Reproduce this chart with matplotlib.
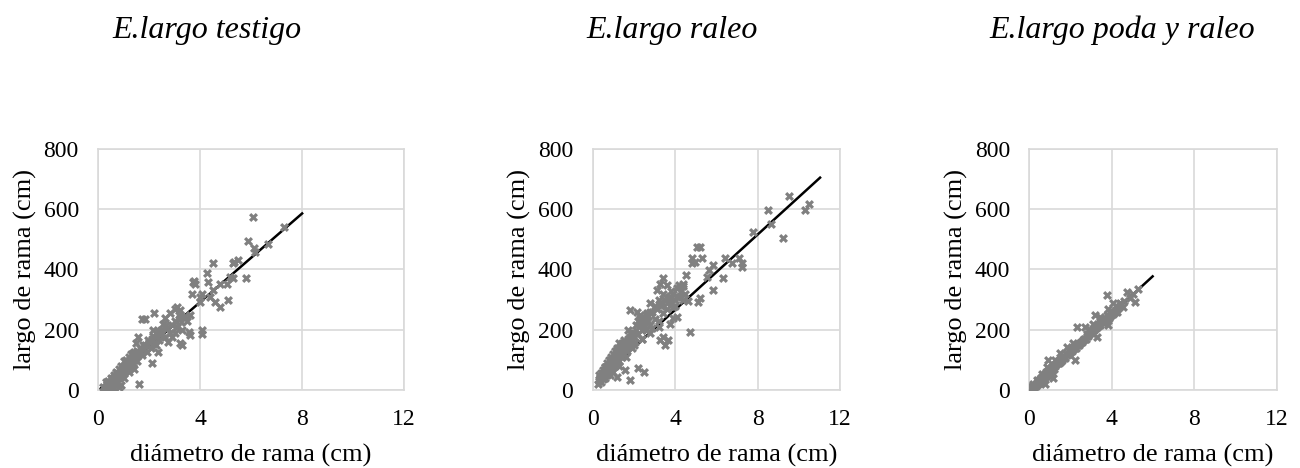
import matplotlib
matplotlib.use("Agg")
import matplotlib.pyplot as plt

plt.rcParams['font.family'] = ['Liberation Serif', 'DejaVu Serif']

titles = ["E.largo testigo", "E.largo raleo", "E.largo poda y raleo"]
xlabel = "diámetro de rama (cm)"
ylabel = "largo de rama (cm)"
x_ticks = [0, 4, 8, 12]
y_ticks = [0, 200, 400, 600, 800]

# E.largo testigo
testigo_x = [0.2, 0.25, 0.3, 0.3, 0.35, 0.4, 0.4, 0.45, 0.5, 0.5, 0.55, 0.6, 0.6, 0.6,
             0.65, 0.7, 0.7, 0.75, 0.8, 0.8, 0.8, 0.85, 0.9, 0.9, 0.9, 0.95, 1.0, 1.0,
             1.05, 1.1, 1.1, 1.15, 1.2, 1.2, 1.25, 1.3, 1.3, 1.35, 1.4, 1.45, 1.5, 1.5,
             1.6, 1.65, 1.7, 1.8, 1.85, 1.9, 2.0, 2.05, 2.1, 2.2, 2.3, 2.4, 2.5, 2.6,
             2.7, 2.8, 2.9, 3.0, 3.0, 3.1, 3.2, 3.15, 3.2, 3.25, 3.1, 3.3, 3.0, 2.9,
             2.8, 2.6, 3.5, 3.6, 3.4, 1.57, 1.61, 1.7, 1.83, 2.1, 2.16, 2.19, 2.36,
             2.42, 2.55, 3.21, 3.27, 3.57, 3.6, 3.67, 3.7, 3.8, 3.99, 4.06, 4.06, 4.06,
             4.28, 4.32, 4.38, 4.49, 4.52, 4.58, 4.78, 4.78, 5.04, 5.08, 5.17, 5.27,
             5.3, 5.33, 5.47, 5.8, 5.89, 6.11, 6.15, 6.68, 7.29, 6.09, 3.76, 4.0, 1.11,
             0.98, 0.79, 0.59, 0.33, 1.24, 1.37, 1.48,
             0.35, 0.45, 0.55, 0.65, 0.75, 0.85, 0.95, 1.05, 1.15, 1.25, 1.35, 1.45,
             1.55, 1.65, 1.75, 1.95, 2.15, 2.25, 2.35, 2.45, 2.65, 2.75, 1.0, 1.2, 1.4,
             0.5, 0.7]
testigo_y = [10, 5, 25, 8, 18, 30, 12, 25, 40, 20, 35, 50, 28, 5,
             45, 60, 35, 55, 70, 40, 8, 60, 80, 50, 15, 70, 95, 60,
             80, 100, 70, 85, 110, 75, 95, 120, 85, 105, 125, 100, 130, 95,
             120, 140, 115, 135, 150, 125, 160, 140, 170, 155, 180, 165, 190, 175,
             205, 190, 215, 230, 270, 275, 265, 250, 240, 225, 210, 200, 190, 175,
             255, 240, 230, 250, 245, 176, 21, 234, 234, 88, 198, 254, 126,
             187, 220, 154, 149, 193, 182, 320, 359, 353, 293, 320, 198, 187,
             387, 359, 309, 420, 331, 293, 353, 276, 353, 300, 376, 420,
             370, 425, 433, 372, 494, 470, 459, 484, 542, 573, 361, 309, 88,
             65, 54, 38, 21, 99, 121, 154,
             10, 15, 22, 30, 40, 48, 55, 65, 72, 80, 90, 110,
             115, 125, 150, 165, 180, 150, 195, 200, 215, 160, 40, 60, 70,
             8, 18]
testigo_fit_x = [0.1, 8.0]
testigo_fit_y = [5, 586]

# E.largo raleo
raleo_x = [0.3, 0.3, 0.35, 0.4, 0.4, 0.45, 0.5, 0.5, 0.55, 0.6, 0.6, 0.65, 0.7, 0.7,
           0.75, 0.8, 0.8, 0.85, 0.9, 0.9, 0.95, 1.0, 1.0, 1.05, 1.1, 1.1, 1.15, 1.2,
           1.2, 1.25, 1.3, 1.3, 1.35, 1.4, 1.45, 1.5, 1.5, 1.6, 1.65, 1.7, 1.8, 1.85,
           1.9, 2.0, 2.05, 2.1, 2.2, 2.3, 2.4, 2.5, 2.6, 2.7, 2.8, 2.9, 3.0, 3.1,
           3.2, 3.3, 3.4, 3.5, 3.6, 3.7, 3.8, 3.9, 4.0, 4.1, 4.2, 4.3, 4.4, 4.5,
           2.13, 1.81, 1.73, 1.41, 1.16, 0.84, 0.6, 0.36, 0.27, 1.57, 1.16, 0.84,
           2.62, 2.46, 2.78, 3.27, 3.75, 4.08, 3.91, 3.75, 4.08, 2.51, 2.22, 1.81,
           3.67, 3.51, 3.43, 3.27, 3.43, 3.27, 3.11, 3.59, 4.72, 4.51, 4.24, 4.4,
           5.13, 5.21, 4.8, 4.8, 5.05, 5.21, 5.29, 4.97, 5.53, 5.66, 5.85, 5.82,
           6.31, 6.42, 6.74, 7.1, 7.23, 7.23, 7.8, 8.52, 8.64, 9.22, 9.53, 10.3,
           10.51, 2.3, 2.9, 3.9, 4.6,
           0.4, 0.5, 0.6, 0.7, 0.8, 0.9, 1.0, 1.1, 1.2, 1.3, 1.4, 1.5, 1.6, 1.7,
           1.8, 1.9, 2.0, 2.1, 2.2, 2.3, 2.4, 2.5, 2.6, 2.7, 2.8, 3.0, 3.2, 3.4,
           3.6, 3.8, 4.0, 4.2, 4.4, 1.0, 1.3, 1.6, 2.0, 2.4, 2.8, 3.2]
raleo_y = [30, 50, 40, 25, 55, 45, 35, 65, 50, 40, 75, 60, 50, 90,
           70, 60, 100, 80, 65, 110, 85, 75, 120, 95, 80, 130, 100, 90,
           140, 110, 95, 155, 120, 110, 135, 120, 165, 140, 130, 160, 150, 185,
           140, 175, 160, 200, 185, 215, 170, 230, 200, 245, 215, 260, 235, 270,
           230, 280, 255, 300, 270, 310, 290, 320, 300, 340, 310, 330, 345, 320,
           259, 265, 198, 154, 132, 99, 76, 43, 21, 65, 43, 49,
           254, 220, 287, 287, 309, 309, 276, 220, 243, 60, 74, 32,
           165, 148, 176, 165, 370, 353, 331, 348, 193, 381, 342, 353,
           293, 304, 437, 420, 475, 475, 437, 425, 376, 398, 414, 331,
           370, 437, 422, 437, 420, 409, 523, 597, 551, 503, 645, 597,
           619, 250, 205, 240, 295,
           40, 55, 65, 80, 85, 95, 100, 115, 120, 125, 140, 145, 150, 170,
           175, 190, 190, 215, 230, 240, 200, 210, 250, 230, 260, 280, 300, 320,
           290, 330, 280, 350, 300, 60, 80, 110, 150, 170, 190, 210]
raleo_fit_x = [0.3, 11.03]
raleo_fit_y = [35, 705]

# E.largo poda y raleo
poda_x = [0.05, 0.1, 0.15, 0.2, 0.25, 0.3, 0.3, 0.35, 0.4, 0.4, 0.45, 0.5, 0.5, 0.55,
          0.6, 0.6, 0.65, 0.7, 0.7, 0.75, 0.8, 0.8, 0.85, 0.9, 0.9, 0.95, 1.0, 1.0,
          1.05, 1.1, 1.1, 1.15, 1.2, 1.2, 1.3, 1.35, 1.4, 1.45, 1.5, 1.55, 1.6, 1.7,
          1.75, 1.8, 1.9, 2.0, 2.1, 2.2, 2.3, 2.4, 2.5, 2.6, 2.7, 2.8, 2.9, 3.0,
          3.1, 3.2, 3.3, 3.4, 3.5, 3.6, 3.7, 3.8, 3.9, 4.0, 4.1, 4.2, 4.3, 4.4,
          3.78, 4.72, 5.05, 5.29, 5.13, 4.4, 4.08, 3.83, 3.75, 3.83, 3.43, 3.19,
          3.11, 2.94, 2.7, 2.3, 2.13, 2.22, 1.81, 1.49, 1.25, 0.92, 0.84, 0.6,
          0.36, 0.11, 1.16, 0.76, 4.24, 4.56, 3.27, 2.78, 4.6, 4.9,
          0.2, 0.3, 0.45, 0.55, 0.65, 0.75, 0.85, 1.0, 1.1, 1.25, 1.4, 1.5, 1.6,
          1.7, 1.85, 1.95, 2.05, 2.15, 2.25, 2.35, 2.45, 2.55, 2.65, 2.75, 2.85,
          2.95, 3.05, 3.15, 3.25, 3.35, 3.45, 3.55, 3.65, 3.75, 3.85, 3.95, 4.05,
          4.15, 4.25, 4.35, 4.45]
poda_y = [3, 8, 5, 12, 10, 20, 14, 22, 30, 20, 28, 35, 25, 38,
          42, 30, 45, 50, 38, 52, 58, 45, 55, 62, 50, 60, 68, 55,
          70, 75, 62, 72, 82, 70, 85, 88, 95, 90, 100, 95, 105, 110,
          105, 118, 120, 130, 135, 140, 150, 148, 160, 165, 170, 180, 185, 195,
          200, 205, 210, 218, 225, 230, 235, 240, 245, 255, 260, 265, 272, 280,
          315, 326, 320, 334, 293, 287, 287, 270, 248, 215, 243, 248,
          220, 198, 209, 209, 154, 99, 143, 121, 99, 99, 76, 54,
          32, 10, 38, 21, 259, 276, 176, 187, 295, 305,
          18, 15, 30, 40, 35, 45, 55, 65, 72, 80, 88, 92, 100,
          108, 115, 125, 128, 138, 140, 150, 155, 158, 168, 170, 178,
          188, 190, 200, 205, 212, 215, 222, 228, 232, 238, 250, 252,
          258, 268, 275, 285]
poda_fit_x = [0.0, 5.98]
poda_fit_y = [0, 377]

panels = [
    (testigo_x, testigo_y, testigo_fit_x, testigo_fit_y),
    (raleo_x, raleo_y, raleo_fit_x, raleo_fit_y),
    (poda_x, poda_y, poda_fit_x, poda_fit_y),
]

# axes boxes in figure fractions (left, bottom, width, height)
boxes = [
    [0.0756, 0.167, 0.2352, 0.5145],
    [0.4559, 0.167, 0.1903, 0.5145],
    [0.7918, 0.167, 0.1903, 0.5145],
]
title_x = [207, 672, 1122]

fig = plt.figure(figsize=(13, 4.68), dpi=100)

for i in range(3):
    xs, ys, fx, fy = panels[i]
    ax = fig.add_axes(boxes[i])
    ax.plot(fx, fy, color='black', linewidth=1.8, zorder=2)
    ax.scatter(xs, ys, marker='X', s=42, color='#808080', linewidths=0, zorder=3)
    ax.set_xlim(0, 12)
    ax.set_ylim(0, 800)
    ax.set_xticks(x_ticks)
    ax.set_yticks(y_ticks)
    ax.grid(True, color='#d9d9d9', linewidth=1.2, zorder=0)
    ax.set_axisbelow(True)
    for s in ax.spines.values():
        s.set_color('#d9d9d9')
        s.set_linewidth(1.2)
    ax.tick_params(length=0, labelsize=17, pad=14)
    ax.set_xlabel(xlabel, fontsize=19, labelpad=10)
    ax.set_ylabel(ylabel, fontsize=19, labelpad=5)
    fig.text(title_x[i] / 1300, 1 - 38 / 468, titles[i], ha='center', va='baseline',
             fontsize=23, style='italic')

fig.savefig("out.png", dpi=100)
